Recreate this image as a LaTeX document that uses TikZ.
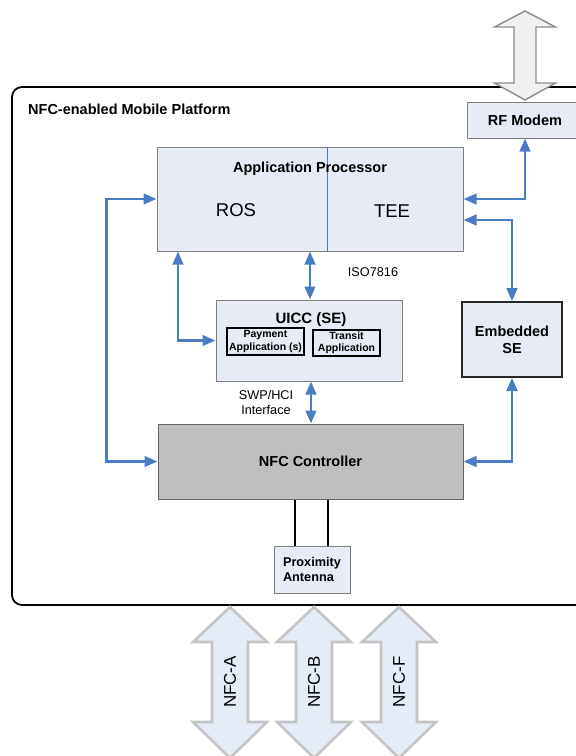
\documentclass[tikz,border=0pt]{standalone}
\usepackage{fontspec}
\setmainfont{Liberation Sans}
\usetikzlibrary{arrows.meta}
\definecolor{boxfill}{HTML}{E6EBF5}
\definecolor{boxline}{HTML}{7F7F7F}
\definecolor{ctrlfill}{HTML}{BFBFBF}
\definecolor{arrowblue}{HTML}{4A7CC4}
\definecolor{bigfill}{HTML}{E4ECF7}
\definecolor{bigline}{HTML}{C4C4C4}
\definecolor{rffill}{HTML}{F0F0F0}
\definecolor{rfline}{HTML}{8C8C8C}
\begin{document}
\begin{tikzpicture}[x=1pt,y=-1pt,
  box/.style={draw=boxline, line width=1pt, fill=boxfill, inner sep=0pt, align=center},
  subbox/.style={draw=black, line width=1.1pt, fill=boxfill, inner sep=0pt, align=center,
     font=\fontsize{10.5}{12.5}\selectfont\bfseries},
  bfont/.style={font=\fontsize{14.5}{17}\selectfont\bfseries},
  lbl/.style={font=\fontsize{12.7}{15}\selectfont, align=center, inner sep=0pt},
  barrow/.style={draw=arrowblue, line width=2.7pt,
     {Triangle[length=13pt,width=10.5pt]}-{Triangle[length=13pt,width=10.5pt]}},
  antline/.style={draw=black, line width=1.6pt},
  bigarrow/.style={draw=bigline, fill=bigfill, line width=2.6pt, line join=miter},
  rfarrow/.style={draw=rfline, fill=rffill, line width=1.4pt, line join=miter}
]
\useasboundingbox (0,0) rectangle (576,756);
\clip (0,0) rectangle (576,756);

% outer platform box
\draw[line width=1.8pt, rounded corners=10pt] (12,87) rectangle (610,605);
\node[bfont, anchor=west, inner sep=0pt] (title) at (28,109) {NFC-enabled Mobile Platform};

% RF external arrow
\def\cx{525}
\draw[rfarrow] (\cx,11) -- (\cx+30.5,27) -- (\cx+11,27) -- (\cx+11,83) -- (\cx+30.5,83)
  -- (\cx,100) -- (\cx-30.5,83) -- (\cx-11,83) -- (\cx-11,27) -- (\cx-30.5,27) -- cycle;

% nodes
\node[box, minimum width=116pt, minimum height=36pt, bfont] (RF) at (525,120) {RF Modem};
\node[box, minimum width=306pt, minimum height=104pt] (AP) at (310,199) {};
\draw[draw=arrowblue, line width=1pt] (AP.north) ++(17,0) coordinate (dtop) -- (dtop |- AP.south);
\node[bfont, inner sep=0pt] (APt) at (310,169) {Application Processor};
\node[font=\fontsize{18.5}{20}\selectfont, inner sep=0pt] (ROS) at (236,210) {ROS};
\node[font=\fontsize{18.5}{20}\selectfont, inner sep=0pt] (TEE) at (392,211) {TEE};

\node[box, minimum width=186pt, minimum height=81pt] (UICC) at (309,340.5) {};
\node[font=\fontsize{15}{17}\selectfont\bfseries, inner sep=0pt] (UICCt) at (311,320) {UICC (SE)};
\node[subbox, minimum width=77pt, minimum height=27pt] (Pay) at (265.5,341.5) {Payment\\Application (s)};
\node[subbox, minimum width=67pt, minimum height=26pt] (Tra) at (346.5,343) {Transit\\Application};

\node[box, draw=black!85, line width=1.6pt, minimum width=100pt, minimum height=75pt, bfont] (ESE) at (512,339.5) {Embedded\\SE};

\node[box, fill=ctrlfill, draw=black!60, minimum width=305pt, minimum height=75pt, bfont] (NFC) at (310.5,461.5) {NFC Controller};

\node[box, minimum width=76pt, minimum height=47pt, font=\fontsize{12.7}{15}\selectfont\bfseries, align=left] (Ant) at (312,569.5) {Proximity\\Antenna};

% labels
\node[lbl] (iso) at (373,272) {ISO7816};
\node[lbl] (swp) at (266,402) {SWP/HCI\\Interface};

% connectors
\draw[barrow] (AP.west) -- ++(-50,0) |- (NFC.west);
\draw[barrow] ([xshift=-132pt]AP.south) |- (UICC.west);
\draw[barrow] (AP.south) -- (AP.south |- UICC.north);
\draw[barrow] ([xshift=2pt]UICC.south) -- ([xshift=2pt]UICC.south |- NFC.north);
\draw[barrow] (AP.east) -| (RF.south);
\draw[barrow] ([yshift=-21pt]AP.east) -| (ESE.north);
\draw[barrow] (ESE.south) |- (NFC.east);

\draw[antline] ([xshift=-17pt]Ant.north) -- ([xshift=-17pt]Ant.north |- NFC.south);
\draw[antline] ([xshift=16pt]Ant.north) -- ([xshift=16pt]Ant.north |- NFC.south);

% NFC air-interface arrows
\foreach \px/\name/\txt in {230/nfca/NFC-A, 314/nfcb/NFC-B, 399/nfcf/NFC-F}{
  \draw[bigarrow] (\px,607) -- (\px+37,642) -- (\px+18,642) -- (\px+18,722) -- (\px+37,722)
    -- (\px,758) -- (\px-37,722) -- (\px-18,722) -- (\px-18,642) -- (\px-37,642) -- cycle;
  \node[rotate=90, font=\fontsize{17}{19}\selectfont, inner sep=0pt] (\name) at (\px,682) {\txt};
}
\end{tikzpicture}
\end{document}
